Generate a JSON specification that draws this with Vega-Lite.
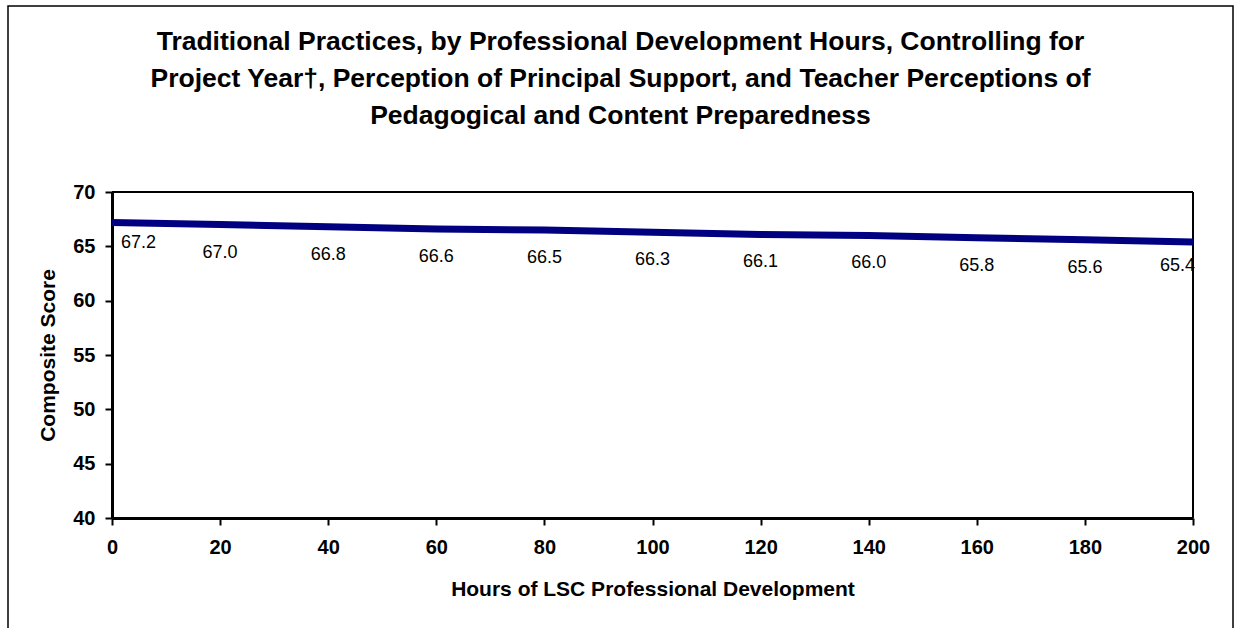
{
  "$schema": "https://vega.github.io/schema/vega-lite/v6.json",
  "autosize": "none",
  "padding": {"left": 8, "top": 6, "right": 2, "bottom": 0},
  "width": 1225,
  "height": 630,
  "background": "white",
  "config": {
    "view": {"stroke": "black", "strokeWidth": 1.5},
    "font": "Liberation Sans",
    "axis": {
      "grid": false,
      "domainColor": "black",
      "domainWidth": 3,
      "tickColor": "black",
      "tickWidth": 2,
      "tickSize": 7,
      "labelFont": "Liberation Sans",
      "labelFontSize": 20,
      "labelFontWeight": "bold",
      "labelColor": "black",
      "labelFlush": false,
      "labelOverlap": false,
      "titleFont": "Liberation Sans",
      "titleFontSize": 21,
      "titleFontWeight": "bold",
      "titleColor": "black"
    }
  },
  "title": {
    "text": [
      "Traditional Practices, by Professional Development Hours, Controlling for",
      "Project Year†, Perception of Principal Support, and Teacher Perceptions of",
      "Pedagogical and Content Preparedness"
    ],
    "font": "Liberation Sans",
    "fontSize": 26.5,
    "fontWeight": "bold",
    "color": "black",
    "lineHeight": 37,
    "anchor": "middle",
    "frame": "group",
    "baseline": "top",
    "offset": 0,
    "dy": 123
  },
  "data": {
    "values": [
      {"hours": 0, "score": 67.2},
      {"hours": 20, "score": 67.0},
      {"hours": 40, "score": 66.8},
      {"hours": 60, "score": 66.6},
      {"hours": 80, "score": 66.5},
      {"hours": 100, "score": 66.3},
      {"hours": 120, "score": 66.1},
      {"hours": 140, "score": 66.0},
      {"hours": 160, "score": 65.8},
      {"hours": 180, "score": 65.6},
      {"hours": 200, "score": 65.4}
    ]
  },
  "encoding": {
    "x": {
      "field": "hours",
      "type": "quantitative",
      "scale": {"domain": [0, 200], "range": [104, 1185], "nice": false, "zero": false},
      "axis": {
        "title": "Hours of LSC Professional Development",
        "values": [0, 20, 40, 60, 80, 100, 120, 140, 160, 180, 200],
        "offset": -118,
        "labelPadding": 12,
        "titlePadding": 21
      }
    },
    "y": {
      "field": "score",
      "type": "quantitative",
      "scale": {"domain": [40, 70], "range": [512, 186], "nice": false, "zero": false},
      "axis": {
        "title": "Composite Score",
        "values": [40, 45, 50, 55, 60, 65, 70],
        "offset": -104,
        "labelPadding": 10,
        "titlePadding": 14
      }
    }
  },
  "layer": [
    {
      "mark": {"type": "rule", "color": "black", "strokeWidth": 2},
      "encoding": {
        "x": {"datum": 0},
        "x2": {"datum": 200},
        "y": {"datum": 70}
      }
    },
    {
      "mark": {"type": "rule", "color": "black", "strokeWidth": 2},
      "encoding": {
        "x": {"datum": 200},
        "y": {"datum": 40},
        "y2": {"datum": 70}
      }
    },
    {
      "mark": {"type": "line", "color": "#000080", "strokeWidth": 7, "clip": false}
    },
    {
      "transform": [{"filter": "datum.hours == 0"}],
      "mark": {"type": "text", "font": "Liberation Sans", "fontSize": 18, "color": "black", "align": "left", "baseline": "middle", "dx": 9, "dy": 21},
      "encoding": {"text": {"field": "score", "type": "quantitative", "format": ".1f"}}
    },
    {
      "transform": [{"filter": "datum.hours > 0 && datum.hours < 200"}],
      "mark": {"type": "text", "font": "Liberation Sans", "fontSize": 18, "color": "black", "align": "center", "baseline": "middle", "dy": 28},
      "encoding": {"text": {"field": "score", "type": "quantitative", "format": ".1f"}}
    },
    {
      "transform": [{"filter": "datum.hours == 200"}],
      "mark": {"type": "text", "font": "Liberation Sans", "fontSize": 18, "color": "black", "align": "right", "baseline": "middle", "dx": 2, "dy": 24},
      "encoding": {"text": {"field": "score", "type": "quantitative", "format": ".1f"}}
    }
  ]
}
